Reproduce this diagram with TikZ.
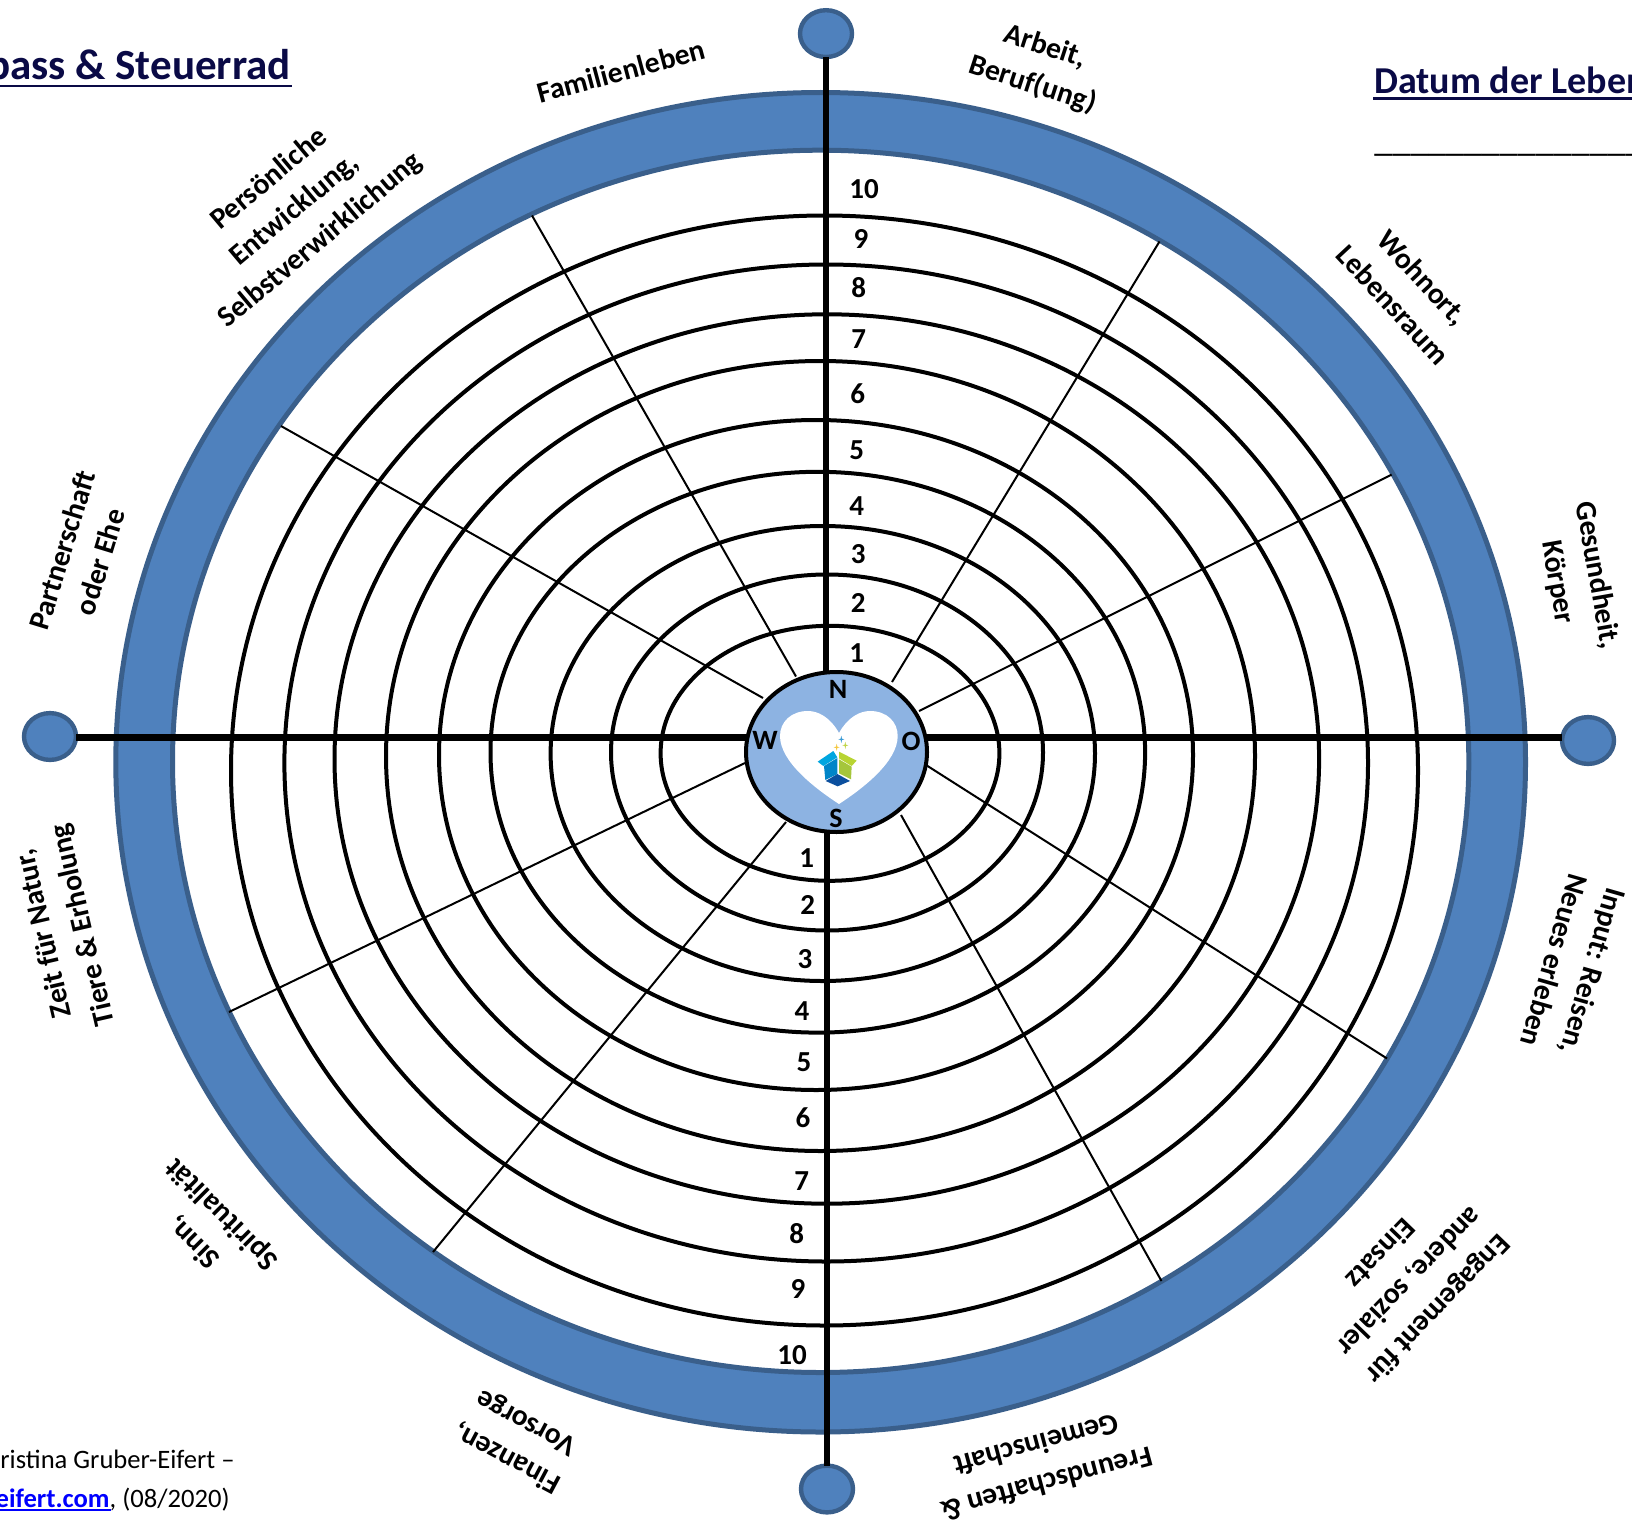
\documentclass[tikz,border=0pt]{standalone}
\usepackage{fontspec}
\setmainfont{Carlito}
\usetikzlibrary{shapes.geometric,calc}
\definecolor{bandfill}{HTML}{4F81BD}
\definecolor{bandline}{HTML}{3A5F8B}
\definecolor{hubfill}{HTML}{8DB3E2}
\definecolor{titlecol}{HTML}{0A0A46}
\definecolor{linkcol}{HTML}{0000FF}
\definecolor{boxa}{HTML}{00A6E0}
\definecolor{boxb}{HTML}{0085C8}
\definecolor{boxc}{HTML}{B8D432}
\definecolor{boxd}{HTML}{A5C63B}
\definecolor{boxe}{HTML}{0B4F9E}
\definecolor{sparka}{HTML}{3A9BD5}
\definecolor{sparkb}{HTML}{F5C842}
\definecolor{sparkc}{HTML}{C2D64A}
\tikzset{
  ringline/.style={line width=2pt,black},
  spoke/.style={line width=1pt,black},
  axisline/.style={line width=3.1pt,black},
  endcap/.style={ellipse,fill=bandfill,draw=bandline,line width=2.2pt,minimum width=26pt,minimum height=23.4pt,inner sep=0pt,outer sep=0pt},
  hub/.style={ellipse,fill=hubfill,draw=black,line width=2pt,minimum width=90.5pt,minimum height=80pt,inner sep=0pt,outer sep=0pt},
  lab/.style={font=\fontsize{14.8}{20}\selectfont\bfseries,align=center,inner sep=0pt},
  num/.style={font=\fontsize{14.5}{16}\selectfont\bfseries,inner sep=0pt},
  dirn/.style={font=\fontsize{14}{16}\selectfont\bfseries,inner sep=0pt},
  headline/.style={font=\bfseries,text=titlecol,inner sep=0pt},
}
\newcommand{\sparkle}[3]{\fill[#3] (#1,#2-11) -- (#1+2,#2-2) -- (#1+9,#2) -- (#1+2,#2+2) -- (#1,#2+11) -- (#1-2,#2+2) -- (#1-9,#2) -- (#1-2,#2-2) -- cycle;}
\begin{document}
\begin{tikzpicture}[x=0.5pt,y=-0.5pt]
\useasboundingbox (0,0) rectangle (1632,1525);
\clip (0,0) rectangle (1632,1525);
\fill[white] (0,0) rectangle (1632,1525);
% blue band
\fill[bandfill,even odd rule] (820.65,762.25) ellipse [x radius=704.85,y radius=669.75] (820.65,761.35) ellipse [x radius=648.15,y radius=611.15];
\draw[bandline,line width=2.5pt] (820.65,762.25) ellipse [x radius=704.85,y radius=669.75];
\draw[bandline,line width=2.5pt] (820.65,761.35) ellipse [x radius=648.15,y radius=611.15];
% scale rings
\foreach \cx/\cy/\rx/\ry in {830/753.3/169.4/127.5,827/752.5/216/178,822.8/753.5/272.2/227.5,817.8/752.2/327.3/280.4,816/755/377/335,820.5/756/434.5/395,826.8/759/492.3/444.7,826.2/763/541.8/498.5,824.5/770.5/593.5/555}
  \draw[ringline] (\cx,\cy) ellipse [x radius=\rx,y radius=\ry];
% spokes
\foreach \n/\ax/\ay/\bx/\by in {a/892/682/1159.5/241.5,b/919/711/1391.6/474.6,c/926/765/1387/1058.5,d/901/815/1161.5/1281,e/786/822/433/1252,f/745/763/229/1012,g/763/698/281/426,h/796/676.5/532/215.5}{
  \coordinate (in\n) at (\ax,\ay);
  \coordinate (out\n) at (\bx,\by);
  \draw[spoke] (in\n) -- (out\n);
}
% end caps and axes
\node[endcap] (capn) at (826,33.6) {};
\node[endcap] (caps) at (827,1489) {};
\node[endcap] (capw) at (50,736.5) {};
\node[endcap] (cape) at (1588,740.5) {};
\coordinate (hubn) at (826,672);
\coordinate (hubs) at (827,832);
\coordinate (hubw) at (746,737.5);
\coordinate (hube) at (927,737.5);
\draw[axisline] (capn.south) -- (hubn);
\draw[axisline] (caps.north) -- (hubs);
\draw[axisline] (hubw -| capw.east) -- (hubw);
\draw[axisline] (hube -| cape.west) -- (hube);
% hub
\node[hub] (hub) at (836.5,752) {};
\fill[white] (839,733) .. controls (830,717) and (818,711) .. (808,711) .. controls (791,711) and (780,722) .. (780,736) .. controls (780,762) and (816,789) .. (839,804) .. controls (862,789) and (897.7,762) .. (897.7,736) .. controls (897.7,722) and (887,711) .. (870,711) .. controls (860,711) and (848,717) .. (839,733) -- cycle;
\begin{scope}[shift={(700,640)},x=0.5pt/3,y=-0.5pt/3]
  \fill[boxa] (353,365) -- (400,333) -- (412,352) -- (370,378) -- cycle;
  \fill[boxb] (372,378) -- (412,354) -- (412,402) -- (376,420) -- cycle;
  \fill[boxc] (417,335) -- (470,362) -- (455,378) -- (417,355) -- cycle;
  \fill[boxd] (417,358) -- (455,380) -- (453,418) -- (417,400) -- cycle;
  \fill[boxe] (377,423) -- (412,402) -- (450,423) -- (413,439) -- cycle;
  \sparkle{424}{298}{sparka}
  \sparkle{410}{322}{sparkb}
  \sparkle{436}{316}{sparkc}
\end{scope}
\node[dirn] (dn) at (838,689) {N};
\node[dirn] (ds) at (836,818) {S};
\node[dirn] (dw) at (765,740) {W};
\node[dirn] (de) at (911,741) {O};
% scale numbers
\node[num] (t10) at (864,189.5) {10};
\node[num] (t9) at (861,239) {9};
\node[num] (t8) at (858.7,288) {8};
\node[num] (t7) at (858.7,339) {7};
\node[num] (t6) at (857.7,394) {6};
\node[num] (t5) at (856.7,450) {5};
\node[num] (t4) at (856.7,506) {4};
\node[num] (t3) at (858.3,554) {3};
\node[num] (t2) at (858.3,603) {2};
\node[num] (t1) at (856.7,653.5) {1};
\node[num] (b1) at (806.7,858) {1};
\node[num] (b2) at (807.7,904.7) {2};
\node[num] (b3) at (805,958.7) {3};
\node[num] (b4) at (802,1011.4) {4};
\node[num] (b5) at (804,1062) {5};
\node[num] (b6) at (803,1118) {6};
\node[num] (b7) at (801.7,1181) {7};
\node[num] (b8) at (796.7,1234) {8};
\node[num] (b9) at (798,1288.5) {9};
\node[num] (b10) at (792,1354.7) {10};
% sector labels
\node[lab,rotate=15] (l1) at (621,71) {Familienleben};
\node[lab,rotate=-18] (l2) at (1039,66) {Arbeit,\\Beruf(ung)};
\node[lab,rotate=-47] (l3) at (1408,291) {Wohnort,\\Lebensraum};
\node[lab,rotate=-80] (l4) at (1577,579) {Gesundheit,\\Körper};
\node[lab,rotate=-106] (l5) at (1574,966) {Input: Reisen,\\Neues erleben};
\node[lab,rotate=-134] (l6) at (1410,1282) {Engagement für\\andere, sozialer\\Einsatz};
\node[lab,rotate=195] (l7) at (1042,1465) {Freundschaften \&\\Gemeinschaft};
\node[lab,rotate=152] (l8) at (517,1440) {Finanzen,\\Vorsorge};
\node[lab,rotate=135] (l9) at (208,1228) {Sinn,\\Spiritualität};
\node[lab,rotate=103] (l10) at (64,929) {Zeit für Natur,\\Tiere \& Erholung};
\node[lab,rotate=73] (l11) at (81,556) {Partnerschaft\\oder Ehe};
\node[lab,rotate=40] (l12) at (295,210) {Persönliche\\Entwicklung,\\Selbstverwirklichung};
% headings
\node[headline,anchor=base east,font=\fontsize{21.5}{26}\selectfont\bfseries] (title) at (291,80) {pass \& Steuerrad};
\draw[titlecol,line width=1.35pt] (0,86) -- (292,86);
\node[headline,anchor=base west,font=\fontsize{19}{23}\selectfont\bfseries] (datum) at (1374,94) {Datum der Leben};
\draw[titlecol,line width=1.35pt] (1373,98.7) -- (1632,98.7);
\node[anchor=base west,inner sep=0pt,font=\fontsize{18}{22}\selectfont] (blank) at (1374,151) {\_\_\_\_\_\_\_\_\_\_\_\_\_\_\_\_\_\_\_\_\_\_\_\_\_\_\_\_};
% footer
\node[anchor=base east,inner sep=0pt,font=\fontsize{13.3}{16}\selectfont] (foot1) at (235,1468) {ristina Gruber-Eifert –};
\node[anchor=base east,inner sep=0pt,font=\fontsize{13.3}{16}\selectfont] (foot2) at (230,1507) {{\bfseries\color{linkcol}eifert.com}, (08/2020)};
\draw[linkcol,line width=0.7pt] (0,1510) -- (110.7,1510);
\end{tikzpicture}
\end{document}
